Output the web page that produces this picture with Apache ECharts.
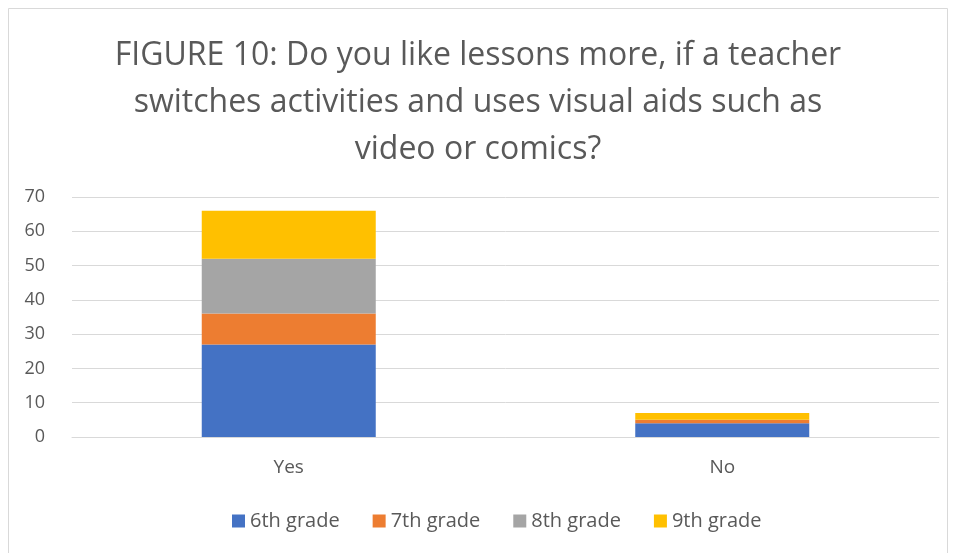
<!DOCTYPE html>
<html>
<head>
<meta charset="utf-8">
<script src="https://cdn.jsdelivr.net/npm/echarts@6/dist/echarts.min.js"></script>
<style>
  html, body { margin: 0; padding: 0; background: #fff; }
  #main { width: 956px; height: 553px; }
</style>
</head>
<body>
<div id="main"></div>
<script>
// categories and values
var categories = ['Yes', 'No'];
var grade6 = [27, 4];
var grade7 = [9, 1];
var grade8 = [16, 0];
var grade9 = [14, 2];
var yTicks = { min: 0, max: 70, interval: 10 };

var textColor = '#595959';
var font = '"Open Sans", "Noto Sans", sans-serif';

var chart = echarts.init(document.getElementById('main'));

function makeSeries(name, data, color) {
	return {
		name: name,
		type: 'bar',
		stack: 'total',
		barWidth: 174,
		data: data,
		itemStyle: { color: color }
	};
}

chart.setOption({
	backgroundColor: '#fff',
	animation: false,
	title: {
		text: 'FIGURE 10: Do you like lessons more, if a teacher\nswitches activities and uses visual aids such as\nvideo or comics?',
		left: 'center',
		top: 27,
		textStyle: {
			color: textColor,
			fontFamily: font,
			fontWeight: 'normal',
			fontSize: 32,
			lineHeight: 47
		}
	},
	graphic: [{
		type: 'rect',
		shape: { x: 8.5, y: 8.5, width: 939, height: 560 },
		style: { fill: 'none', stroke: '#d9d9d9', lineWidth: 1 },
		silent: true
	}],
	legend: {
		bottom: 17,
		left: 227,
		itemWidth: 13,
		itemHeight: 13,
		itemGap: 33,
		icon: 'rect',
		textStyle: { color: textColor, fontFamily: font, fontSize: 20 }
	},
	grid: { left: 72, right: 17, top: 197, bottom: 116 },
	xAxis: {
		type: 'category',
		data: categories,
		axisLine: { show: true, lineStyle: { color: '#d9d9d9', width: 1 } },
		axisTick: { show: false },
		axisLabel: { color: textColor, fontFamily: font, fontSize: 19, margin: 21 }
	},
	yAxis: {
		type: 'value',
		min: yTicks.min,
		max: yTicks.max,
		interval: yTicks.interval,
		axisLine: { show: false },
		axisTick: { show: false },
		splitLine: { lineStyle: { color: '#d9d9d9', width: 1 } },
		axisLabel: { color: textColor, fontFamily: font, fontSize: 18, margin: 27 }
	},
	series: [
		makeSeries('6th grade', grade6, '#4472c4'),
		makeSeries('7th grade', grade7, '#ed7d31'),
		makeSeries('8th grade', grade8, '#a5a5a5'),
		makeSeries('9th grade', grade9, '#ffc000')
	]
});
</script>
</body>
</html>
